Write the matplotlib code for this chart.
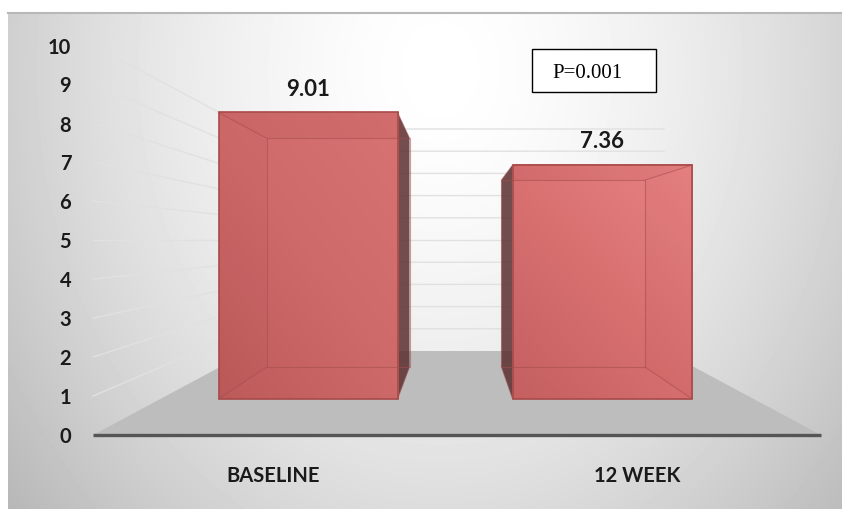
import numpy as np
import matplotlib
matplotlib.use('Agg')
import matplotlib.pyplot as plt
from matplotlib.patches import Polygon, Rectangle
from matplotlib.colors import LinearSegmentedColormap

categories = ['BASELINE', '12 WEEK']
values = [9.01, 7.36]
y_ticks = [0, 1, 2, 3, 4, 5, 6, 7, 8, 9, 10]
p_label = 'P=0.001'

W, H = 842, 510

# pseudo-3D camera, in pixels
VX, VY = 457, 241
FRONT, BACK = 39.0, 22.2      # pixels per unit at the front and back of the floor
BAR_FRONT, BAR_BACK = 31.8, 25.4
WALL_X = 9.33
BAR_SPANS = [(-7.5, -1.87), (1.75, 7.4)]
CATEGORY_X = [273.5, 637]


def project(x, v, s):
    return VX + x * s, VY + (5 - v) * s


def face(*corners):
    return [project(*c) for c in corners]


fig = plt.figure(figsize=(W / 100, H / 100), dpi=100, facecolor='white')
ax = fig.add_axes([0, 0, 1, 1])

# panel background, a soft radial gradient
px, py = np.meshgrid(np.arange(8, W), np.arange(13, H))
dist = np.sqrt(((px - 440) / 450.0) ** 2 + ((py - 70) / 560.0) ** 2)
shade = np.clip(1.0 - 0.2 * dist ** 1.6, 0, 1)
ax.imshow(shade, cmap='gray', vmin=0, vmax=1, extent=(8, W, H, 13),
          aspect='auto', zorder=0, interpolation='bilinear')
ax.plot([8, W], [13.5, 13.5], color='#b8b8b8', lw=1.5, zorder=1)

# floor
ax.add_patch(Polygon(face((-WALL_X, 0, FRONT), (WALL_X, 0, FRONT),
                          (WALL_X, 0, BACK), (-WALL_X, 0, BACK)),
                     closed=True, fc='#bdbdbd', ec='none', zorder=1))

# grid lines on the side wall and the back wall
for t in y_ticks[1:]:
    xs, ys = zip(*face((-WALL_X, t, FRONT), (-WALL_X, t, BACK), (WALL_X, t, BACK)))
    ax.plot(xs, ys, color='#e1e1e1', lw=1.0, zorder=1.5)

ramp_left = LinearSegmentedColormap.from_list('ramp_left', ['#bd5a5a', '#cf6a6a', '#d87373'])
ramp_right = LinearSegmentedColormap.from_list('ramp_right', ['#c56060', '#d87070', '#e98484'])

for i, (val, (x0, x1)) in enumerate(zip(values, BAR_SPANS)):
    # corners run bottom-left, bottom-right, top-right, top-left
    front = face((x0, 0, BAR_FRONT), (x1, 0, BAR_FRONT), (x1, val, BAR_FRONT), (x0, val, BAR_FRONT))
    back = face((x0, 0, BAR_BACK), (x1, 0, BAR_BACK), (x1, val, BAR_BACK), (x0, val, BAR_BACK))
    fl, fr = front[0][0], front[1][0]
    ftop, fbot = front[2][1], front[0][1]

    # body: gradient over the front rectangle
    grid = np.linspace(0, 1, 64)
    gx, gy = np.meshgrid(grid, grid)
    ax.imshow(0.55 * gy + 0.45 * gx, cmap=ramp_left if i == 0 else ramp_right,
              origin='lower', extent=(fl, fr, fbot, ftop), aspect='auto',
              vmin=0, vmax=1, zorder=2)

    # outer side of the box, seen past the front face
    low, high = (1, 2) if i == 0 else (0, 3)
    ax.add_patch(Polygon([front[low], front[high], back[high], back[low]], closed=True,
                         fc='#5c2f30', ec='none', alpha=0.85, zorder=1.8))

    # darker top and inner wall
    ax.add_patch(Polygon([front[3], front[2], back[2], back[3]], closed=True,
                         fc='#8a2f30', ec='none', alpha=0.08, zorder=3))
    low, high = (0, 3) if i == 0 else (1, 2)
    ax.add_patch(Polygon([front[low], back[low], back[high], front[high]], closed=True,
                         fc='#8a2f30', ec='none', alpha=0.04, zorder=3))

    # box edges
    ax.add_patch(Polygon(front, closed=True, fc='none', ec='#a84a4a', lw=1.2, zorder=4))
    ax.add_patch(Polygon(back, closed=True, fc='none', ec='#a34c4c', lw=0.8, alpha=0.55, zorder=4))
    for k in range(4):
        ax.plot([front[k][0], back[k][0]], [front[k][1], back[k][1]],
                color='#a34c4c', lw=0.8, alpha=0.55, zorder=4)

    cx, cy = project((x0 + x1) / 2, val, BAR_FRONT)
    ax.text(cx, cy - 24, f'{val:.2f}', ha='center', va='center', fontsize=16,
            family='Lato', fontweight='bold', color='#1a1a1a', zorder=6)

# baseline
xs, ys = zip(*face((-WALL_X, 0, FRONT), (WALL_X, 0, FRONT)))
ax.plot(xs, ys, color='#555555', lw=2.4, solid_capstyle='butt', zorder=5)

# value axis labels
for t in y_ticks:
    x, y = project(-WALL_X, t, FRONT)
    ax.text(x - 22, y + 1.5, str(t), ha='right', va='center', fontsize=14.5, family='Lato',
            fontweight='bold', color='#1a1a1a', zorder=6)

# category labels
for name, xc in zip(categories, CATEGORY_X):
    ax.text(xc, 476.5, name, ha='center', va='center', fontsize=14.5, family='Lato',
            fontweight='bold', color='#1a1a1a', zorder=6)

# p-value box
ax.add_patch(Rectangle((532, 50), 123.5, 42.5, fc='white', ec='black', lw=1.0, zorder=6))
ax.text(552, 74, p_label, ha='left', va='center', fontsize=15,
        family='Liberation Serif', color='black', zorder=7)

ax.set_xlim(0, W)
ax.set_ylim(H, 0)
ax.axis('off')

fig.savefig('out.png', dpi=100, facecolor='white')
